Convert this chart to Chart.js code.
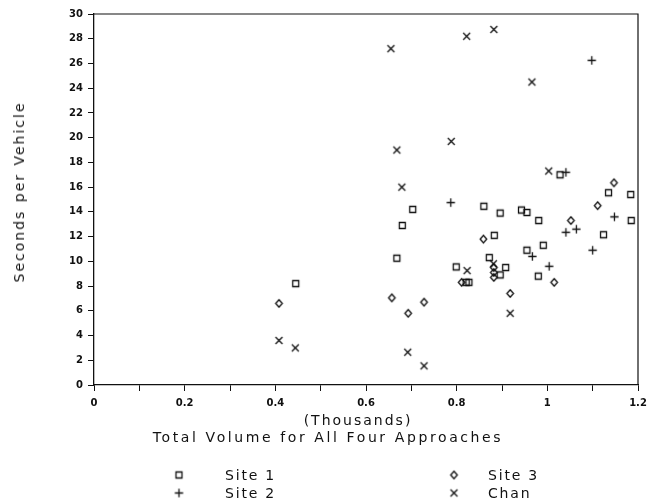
<!DOCTYPE html>
<html><head><meta charset="utf-8">
<script src="https://cdn.jsdelivr.net/npm/chart.js@4.4.1/dist/chart.umd.min.js"></script>
<style>
html,body{margin:0;padding:0;background:#fff;}
#wrap{position:relative;width:648px;height:503px;font-family:"DejaVu Sans",sans-serif;color:#111;overflow:hidden;}
#c{position:absolute;left:0;top:0;}
.t{position:absolute;white-space:nowrap;font-size:14px;line-height:16px;transform:translate(-50%,-50%);}
#ytitle{left:19px;top:192px;transform:translate(-50%,-50%) rotate(-90deg);letter-spacing:2px;word-spacing:1px;}
#xsub{left:358px;top:420px;letter-spacing:2px;}
#xtitle{left:328px;top:437px;letter-spacing:2.6px;}
.lg{position:absolute;white-space:nowrap;font-size:14px;letter-spacing:1.8px;line-height:16px;transform:translateY(-50%);}
.lm{position:absolute;transform:translate(-50%,-50%);}
</style>
</head><body>
<div id="wrap">
<canvas id="c" width="648" height="503"></canvas>
<div class="t" id="ytitle">Seconds per Vehicle</div>
<div class="t" id="xsub">(Thousands)</div>
<div class="t" id="xtitle">Total Volume for All Four Approaches</div>
<div id="legend"></div>
</div>
<script>
// ---- data ----
const seriesNames = ['Site 1', 'Site 2', 'Site 3', 'Chan'];
const xTickLabels = ['0', '0.2', '0.4', '0.6', '0.8', '1', '1.2'];
const yTickValues = [0,2,4,6,8,10,12,14,16,18,20,22,24,26,28,30];

const site1X = [0.445,0.668,0.680,0.703,0.799,0.821,0.827,0.860,0.872,0.883,0.896,0.896,0.908,0.943,0.955,0.955,0.981,0.980,0.991,1.028,1.124,1.135,1.184,1.185];
const site1Y = [8.2,10.25,12.9,14.2,9.55,8.3,8.3,14.45,10.3,12.1,13.9,8.9,9.5,14.15,13.95,10.9,13.3,8.8,11.3,17.0,12.15,15.55,15.4,13.3];

const site2X = [0.787,0.967,1.004,1.041,1.041,1.064,1.098,1.100,1.148];
const site2Y = [14.75,10.4,9.6,17.2,12.35,12.6,26.25,10.9,13.6];

const site3X = [0.408,0.657,0.693,0.728,0.811,0.859,0.882,0.882,0.882,0.918,1.015,1.052,1.111,1.147];
const site3Y = [6.6,7.05,5.8,6.7,8.3,11.8,9.5,9.1,8.7,7.4,8.3,13.3,14.5,16.35];

const chanX = [0.408,0.444,0.655,0.668,0.679,0.692,0.728,0.788,0.822,0.823,0.882,0.881,0.918,0.966,1.003];
const chanY = [3.6,3.0,27.2,19.0,16.0,2.65,1.55,19.7,28.2,9.25,28.75,9.8,5.8,24.5,17.3];

// ---- markers ----
function makeMarker(kind){
  const c = document.createElement('canvas');
  c.width = 11; c.height = 11;
  const g = c.getContext('2d');
  g.strokeStyle = '#111'; g.lineWidth = 1.3; g.lineCap = 'square';
  g.beginPath();
  if (kind === 'square') { g.rect(2.5,2.5,6,6); }
  else if (kind === 'plus') { g.moveTo(5.5,2); g.lineTo(5.5,9); g.moveTo(2,5.5); g.lineTo(9,5.5); }
  else if (kind === 'diamond') { g.moveTo(5.5,1.7); g.lineTo(8.8,5.5); g.lineTo(5.5,9.3); g.lineTo(2.2,5.5); g.closePath(); }
  else if (kind === 'cross') { g.moveTo(2.5,2.5); g.lineTo(8.5,8.5); g.moveTo(8.5,2.5); g.lineTo(2.5,8.5); }
  g.stroke();
  return c;
}
const markerKinds = ['square','plus','diamond','cross'];
const markers = markerKinds.map(makeMarker);

function pts(xs, ys){ return xs.map((x,i)=>({x:x, y:ys[i]})); }
const seriesData = [pts(site1X,site1Y), pts(site2X,site2Y), pts(site3X,site3Y), pts(chanX,chanY)];

const datasets = seriesNames.map((n,i)=>({
  label:n, data:seriesData[i], pointStyle:markers[i], pointRadius:5, showLine:false,
  borderColor:'#111', backgroundColor:'transparent'
}));

// ---- legend (HTML) ----
const legendPos = [[179,225,475],[179,225,493],[454,488,475],[454,488,493]];
const lg = document.getElementById('legend');
seriesNames.forEach((n,i)=>{
  const img = document.createElement('img');
  img.src = markers[i].toDataURL(); img.className='lm';
  img.style.left = legendPos[i][0]+'px'; img.style.top = legendPos[i][2]+'px';
  lg.appendChild(img);
  const d = document.createElement('div');
  d.className='lg'; d.textContent = n;
  d.style.left = legendPos[i][1]+'px'; d.style.top = legendPos[i][2]+'px';
  lg.appendChild(d);
});

const framePlugin = {
  id:'frame',
  afterDraw(chart){
    const a = chart.chartArea, ctx = chart.ctx;
    ctx.save(); ctx.strokeStyle='#111'; ctx.lineWidth=1.2;
    ctx.beginPath(); ctx.moveTo(a.left,a.top); ctx.lineTo(a.right,a.top); ctx.lineTo(a.right,a.bottom); ctx.stroke();
    ctx.restore();
  }
};

const tickFont = {family:'DejaVu Sans', size:10, weight:'bold'};
new Chart(document.getElementById('c'), {
  type:'scatter',
  data:{datasets},
  plugins:[framePlugin],
  options:{
    responsive:false, animation:false, devicePixelRatio:1,
    layout:{padding:{left:0,top:14,right:10,bottom:88}},
    plugins:{legend:{display:false}, tooltip:{enabled:false}},
    scales:{
      x:{type:'linear', min:0, max:1.2,
         afterFit(s){ s.height = 30; s.paddingRight = 0; s.paddingLeft = 0; },
         ticks:{stepSize:0.1, autoSkip:false, maxRotation:0, padding:6, color:'#111', font:tickFont,
           callback(v){ const k = Math.round(v*10); return (k % 2 === 0) ? xTickLabels[k/2] : ''; }},
         grid:{drawOnChartArea:false, drawTicks:true, tickLength:6, color:'#111', lineWidth:1},
         border:{display:true, color:'#111', width:1.3}},
      y:{type:'linear', min:0, max:30,
         afterFit(s){ s.width = 94; s.paddingTop = 0; s.paddingBottom = 0; },
         afterBuildTicks(s){ s.ticks = yTickValues.map(v=>({value:v})); },
         ticks:{stepSize:2, padding:5, color:'#111', font:tickFont},
         grid:{drawOnChartArea:false, drawTicks:true, tickLength:6, color:'#111', lineWidth:1},
         border:{display:true, color:'#111', width:1.3}}
    }
  }
});
</script>
</body></html>
